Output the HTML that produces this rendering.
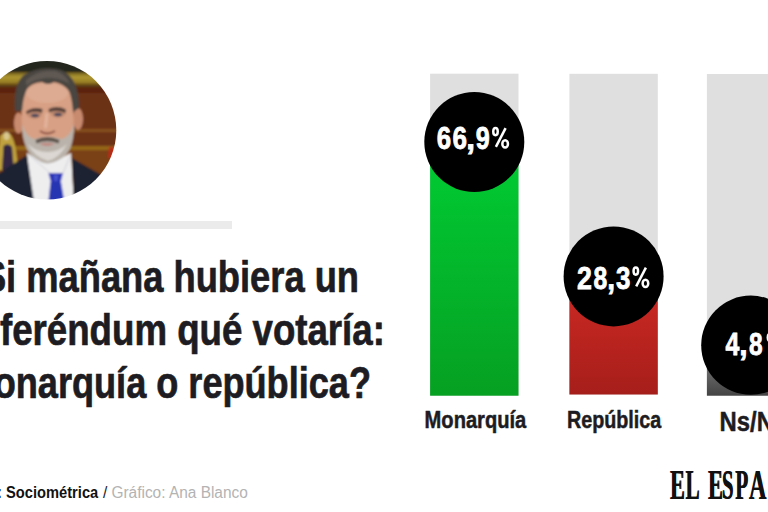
<!DOCTYPE html>
<html><head><meta charset="utf-8">
<style>
html,body{margin:0;padding:0;background:#fff;width:768px;height:512px;overflow:hidden}
svg{display:block}
text{font-family:"Liberation Sans",sans-serif}
#logo text{font-family:"Liberation Serif",serif}
</style></head>
<body>
<svg width="768" height="512" viewBox="0 0 768 512">
<defs>
  <linearGradient id="gG" x1="0" y1="0" x2="0" y2="1">
    <stop offset="0" stop-color="#00cd34"/>
    <stop offset="1" stop-color="#06a022"/>
  </linearGradient>
  <linearGradient id="gR" x1="0" y1="0" x2="0" y2="1">
    <stop offset="0" stop-color="#d02a24"/>
    <stop offset="1" stop-color="#a61e1a"/>
  </linearGradient>
  <linearGradient id="gK" x1="0" y1="0" x2="0" y2="1">
    <stop offset="0" stop-color="#909090"/>
    <stop offset="1" stop-color="#444444"/>
  </linearGradient>
  <linearGradient id="gold" x1="0" y1="0" x2="0" y2="1">
    <stop offset="0" stop-color="#6e5e1c"/>
    <stop offset="0.35" stop-color="#b09834"/>
    <stop offset="0.7" stop-color="#9a8024"/>
    <stop offset="1" stop-color="#6a4a14"/>
  </linearGradient>
  <clipPath id="cp"><circle cx="47" cy="130.2" r="69.3"/></clipPath>
  <filter id="bl" x="-10%" y="-10%" width="120%" height="120%"><feGaussianBlur stdDeviation="0.9"/></filter>
  <filter id="dil" x="-5%" y="-5%" width="110%" height="110%"><feMorphology operator="dilate" radius="0.65 0"/></filter>
  <g id="pct" fill="none" stroke="#fff">
    <ellipse cx="3.5" cy="4.9" rx="2.25" ry="3.6" stroke-width="2.5"/>
    <ellipse cx="13.15" cy="17.2" rx="2.8" ry="3.6" stroke-width="2.5"/>
    <path d="M13.6 1.4 L3.9 20.2" stroke-width="2.5"/>
  </g>
</defs>

<!-- photo -->
<g clip-path="url(#cp)">
 <g filter="url(#bl)">
  <rect x="-30" y="55" width="160" height="150" fill="#6c3012"/>
  <rect x="-30" y="55" width="160" height="17.5" fill="#23261a"/>
  <rect x="-30" y="72.3" width="160" height="13.5" fill="url(#gold)"/>
  
  <rect x="-30" y="84.5" width="160" height="2.5" fill="#5c3c16"/>
  <rect x="-30" y="87" width="160" height="6" fill="#5c240c"/>
  <rect x="-30" y="129" width="160" height="3" fill="#86501a"/>
  <rect x="-30" y="146" width="160" height="4.5" fill="#946618"/>
  <rect x="-30" y="150.5" width="160" height="50" fill="#7a4012"/>
  
  <!-- left figure -->
  <path d="M-3 170 L0 136 Q5 130 10 134 Q16 140 17.6 166 L15 170 Z" fill="#c0a23e"/>
  <path d="M2 170 L3.5 146 Q8 142 12 147 L14 170 Z" fill="#302642"/><ellipse cx="6.5" cy="136" rx="3" ry="4" fill="#d8c890"/>
  <path d="M109 147 L114 147 L114 158 L108 158 Z" fill="#b82a18"/>
  <!-- ears -->
  <ellipse cx="18.5" cy="123" rx="4.5" ry="10.5" fill="#c98b6f"/>
  <ellipse cx="78" cy="119" rx="5" ry="11" fill="#c98b6f"/>
  <!-- face -->
  <path d="M21 98 Q22 80 47 79 Q72 80 73 98 L74 128 Q72 156 48 162 Q24 156 22 130 Z" fill="#d8a084"/>
  <ellipse cx="47" cy="93" rx="21" ry="10" fill="#ddab92"/>
  <!-- hair -->
  <path d="M15 111 Q13 84 24 75 Q40 65 61 70 Q79 77 79 108 L73 112 Q72 98 69 91 Q64 84 54 82 Q48 86 42 82 Q31 83 27 89 Q23 97 22 111 Z" fill="#4a4541"/>
  <path d="M26 80 Q38 69 56 71 Q66 74 70 84 Q60 78 48 78 Q34 79 26 86 Z" fill="#5e5852"/>
  <!-- brows/eyes -->
  <ellipse cx="34.5" cy="114.5" rx="7.5" ry="4" fill="#c08a70"/>
  <ellipse cx="58" cy="113.5" rx="7.5" ry="4" fill="#c08a70"/>
  <path d="M26 111.5 Q33 106 42.5 109 L42 113 Q34 110 26.5 114 Z" fill="#55403a"/>
  <path d="M48.5 109 Q57 105 66 109.5 L65.5 113 Q57 109.5 49 112.5 Z" fill="#55403a"/>
  <ellipse cx="35" cy="115.5" rx="4" ry="1.8" fill="#45465a"/>
  <ellipse cx="58" cy="114.5" rx="4" ry="1.8" fill="#45465a"/>
  <path d="M47 113 L45.5 128" stroke="#e2b39c" stroke-width="3" fill="none"/>
  <path d="M40 131 Q47 136 55 131" stroke="#8a4e40" stroke-width="2" fill="none"/>
  <!-- shirt -->
  <path d="M27 153 Q48 166 71 153 L74 205 L30 205 Z" fill="#eeeeef"/>
  <path d="M27 153 L50 173 M71 154 L63 173" stroke="#cfcfd4" stroke-width="1" fill="none"/>
  <!-- beard -->
  <path d="M22 124 Q23 148 32 156 Q42 164 48 163.5 Q58 162 66 155 Q74 146 74 124 Q70 137 62 139 Q48 134 34 139 Q26 137 22 124 Z" fill="#bab3ab"/>
  <path d="M28 144 Q34 157 48 161 Q60 158 67 144 Q60 151 48 152 Q36 152 28 144 Z" fill="#dcd7d2"/>
  <path d="M35.5 140 Q47 134 59.5 140 L58.5 143.5 Q47 139 36.5 143.5 Z" fill="#5e524c"/>
  <path d="M39 144 Q47 142 55 144 Q47 147.5 39 144 Z" fill="#bf827a"/>
  <!-- suit -->
  <path d="M-30 188 L0 172.8 L27 155 L34.5 205 L-30 205 Z" fill="#1f2230"/>
  <path d="M71.7 158 L99 173.5 L120 190 L120 205 L74 205 Z" fill="#1f2230"/>
  <!-- tie -->
  <path d="M48.5 173 L63 173 L60.5 182.5 L51 182.5 Z" fill="#2a36b8"/>
  <path d="M50.5 182 L61 182 L65 205 L48 205 Z" fill="#2834b2"/>
  <path d="M54 175 L58 175 L57 181 L54.5 181 Z" fill="#4a58d0"/>
 </g>
</g>

<rect x="0" y="221" width="232" height="8" fill="#ebebeb"/>

<!-- title -->
<g fill="#1d1c22" font-weight="bold" font-size="44" stroke="#1d1c22" stroke-width="0.7">
  <text x="-18.1" y="291.6" textLength="377.1" lengthAdjust="spacingAndGlyphs">Si mañana hubiera un</text>
  <text x="0" y="344.7" textLength="384.9" lengthAdjust="spacingAndGlyphs">feréndum qué votaría:</text>
  <text x="-6.3" y="397.5" textLength="377.3" lengthAdjust="spacingAndGlyphs">onarquía o república?</text>
</g>

<!-- bars -->
<rect x="430.1" y="73.7" width="88.4" height="322" fill="#dfdfdf"/>
<rect x="430.1" y="142" width="88.4" height="253.7" fill="url(#gG)"/>
<circle cx="474.3" cy="142" r="50" fill="#000"/>

<rect x="569.4" y="73.8" width="88.4" height="320.7" fill="#dfdfdf"/>
<rect x="569.4" y="276.4" width="88.4" height="118.1" fill="url(#gR)"/>
<circle cx="613.6" cy="276.4" r="50" fill="#000"/>

<rect x="706.9" y="74" width="88.4" height="321.7" fill="#dfdfdf"/>
<rect x="706.9" y="345" width="88.4" height="50.7" fill="url(#gK)"/>
<circle cx="750.8" cy="345.2" r="49.6" fill="#000"/>

<g fill="#fff" font-weight="bold" font-size="32" stroke="#fff" stroke-width="0.8">
  <text x="436.75" y="149.0" textLength="14.38" lengthAdjust="spacingAndGlyphs">6</text>
  <text x="452.55" y="149.0" textLength="14.50" lengthAdjust="spacingAndGlyphs">6</text>
  <text x="466.37" y="149.0" textLength="8.74" lengthAdjust="spacingAndGlyphs">,</text>
  <text x="475.73" y="149.0" textLength="14.01" lengthAdjust="spacingAndGlyphs">9</text>
  <text x="577.07" y="288.5" textLength="14.90" lengthAdjust="spacingAndGlyphs">2</text>
  <text x="593.52" y="288.5" textLength="13.74" lengthAdjust="spacingAndGlyphs">8</text>
  <text x="607.20" y="288.5" textLength="7.77" lengthAdjust="spacingAndGlyphs">,</text>
  <text x="616.10" y="288.5" textLength="14.43" lengthAdjust="spacingAndGlyphs">3</text>
  <text x="725.62" y="354.8" textLength="13.81" lengthAdjust="spacingAndGlyphs">4</text>
  <text x="739.26" y="354.8" textLength="8.35" lengthAdjust="spacingAndGlyphs">,</text>
  <text x="748.92" y="354.8" textLength="13.63" lengthAdjust="spacingAndGlyphs">8</text>
</g>
<use href="#pct" transform="translate(492 126.7)"/>
<use href="#pct" transform="translate(632.3 266.2)"/>
<use href="#pct" transform="translate(766.5 332.5)"/>

<g fill="#1d1c22" font-weight="bold" stroke="#1d1c22" stroke-width="0.5">
  <text x="424.6" y="427.7" font-size="24.4" textLength="101.7" lengthAdjust="spacingAndGlyphs">Monarquía</text>
  <text x="566.9" y="427.7" font-size="24.4" textLength="94.4" lengthAdjust="spacingAndGlyphs">República</text>
  <text x="719.6" y="431.3" font-size="27.7" textLength="71.5" lengthAdjust="spacingAndGlyphs">Ns/NC</text>
</g>

<!-- footer -->
<text x="-2.9" y="498" font-size="16" font-weight="bold" fill="#111" textLength="101.1" lengthAdjust="spacingAndGlyphs">: Sociométrica</text>
<text x="102.9" y="498" font-size="16" fill="#b3b3b3" textLength="144.9" lengthAdjust="spacingAndGlyphs"><tspan fill="#222">/</tspan> Gráfico: Ana Blanco</text>

<!-- logo -->
<g id="logo" fill="#111" font-size="42.46" font-weight="bold" style="font-family:'Liberation Serif',serif">
<text transform="translate(669.87 498.8) scale(0.521 1)">E</text>
<text transform="translate(685.14 498.8) scale(0.500 1)">L</text>
<text transform="translate(707.82 498.8) scale(0.523 1)">E</text>
<text transform="translate(721.65 498.8) scale(0.488 1)">S</text>
<text transform="translate(734.89 498.8) scale(0.502 1)">P</text>
<text transform="translate(748.76 498.8) scale(0.568 1)">A</text>
</g>
<use href="#logo" transform="translate(0.6 0)"/>
</svg>
</body></html>
